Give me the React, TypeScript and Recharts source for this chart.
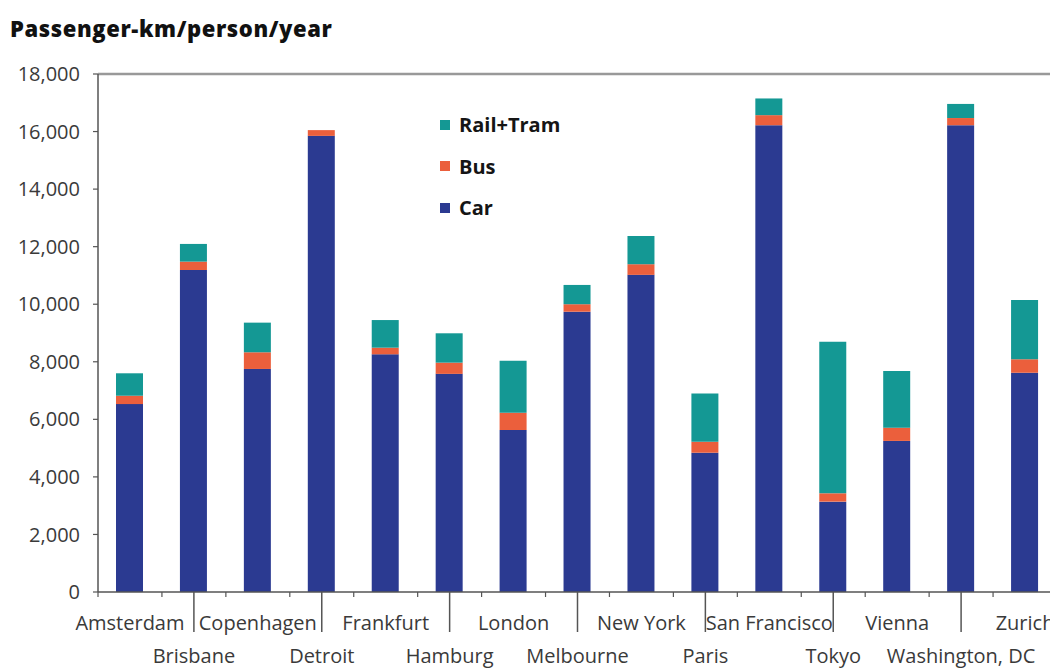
import React from 'react';
import { BarChart, Bar, XAxis, YAxis, Legend, ReferenceLine } from 'recharts';

const cities = ['Amsterdam', 'Brisbane', 'Copenhagen', 'Detroit', 'Frankfurt', 'Hamburg', 'London', 'Melbourne', 'New York', 'Paris', 'San Francisco', 'Tokyo', 'Vienna', 'Washington, DC', 'Zurich'];
const car = [6530, 11190, 7750, 15850, 8260, 7580, 5630, 9740, 11020, 4840, 16220, 3140, 5250, 16220, 7620];
const bus = [290, 290, 580, 200, 230, 390, 600, 260, 370, 380, 350, 290, 460, 250, 470];
const rail = [780, 615, 1030, 0, 960, 1020, 1810, 670, 980, 1680, 580, 5270, 1970, 490, 2060];
const yTicks = [0, 2000, 4000, 6000, 8000, 10000, 12000, 14000, 16000, 18000];
const legendOrder = ['Rail+Tram', 'Bus', 'Car'];
const title = 'Passenger-km/person/year';

const data = cities.map((city, i) => ({ city, car: car[i], bus: bus[i], rail: rail[i] }));

const CHART_W = 1080;
const CHART_H = 668;
const Y_W = 98;
const MARGIN = { top: 74, right: 23, bottom: 0, left: 0 };
const BAND = (CHART_W - Y_W - MARGIN.left - MARGIN.right) / cities.length;

const FONT = '"Open Sans", sans-serif';

function CityTick(props: any) {
  const { x, y, payload, index } = props;
  const half = BAND / 2;
  const even = index % 2 === 0;
  return (
    <g>
      <line x1={x - half} x2={x - half} y1={y} y2={y + 5} stroke="#555" strokeWidth={1.2} />
      {!even && <line x1={x} x2={x} y1={y} y2={y + 40} stroke="#555" strokeWidth={1.5} />}
      <text x={x} y={even ? y + 38 : y + 71} textAnchor="middle" fontFamily={FONT} fontSize={20} fill="#3a3a3a">
        {payload.value}
      </text>
    </g>
  );
}

function LegendContent(props: any) {
  const items = [...(props.payload || [])].sort(
    (a: any, b: any) => legendOrder.indexOf(a.value) - legendOrder.indexOf(b.value)
  );
  return (
    <div style={{ fontFamily: FONT }}>
      {items.map((it: any) => (
        <div key={it.value} style={{ display: 'flex', alignItems: 'center', height: 41.5 }}>
          <span style={{ display: 'inline-block', width: 10, height: 10, background: it.color, marginRight: 9 }} />
          <span style={{ fontSize: 20, fontWeight: 700, color: '#151515' }}>{it.value}</span>
        </div>
      ))}
    </div>
  );
}

export default function App() {
  return (
    <div style={{ position: 'fixed', left: 0, top: 0, width: 1050, height: 668, overflow: 'hidden', background: '#fff' }}>
      <div style={{ position: 'absolute', left: 10, top: 17, fontFamily: FONT, fontSize: 22, lineHeight: '22px', fontWeight: 800, color: '#111', letterSpacing: 0.6, whiteSpace: 'nowrap' }}>
        {title}
      </div>
      <div style={{ position: 'absolute', left: 0, top: 0 }}>
        <BarChart width={CHART_W} height={CHART_H} data={data} margin={MARGIN}>
          <ReferenceLine y={18000} stroke="#999" strokeWidth={2.5} />
          <XAxis
            dataKey="city"
            interval={0}
            tick={<CityTick />}
            tickLine={false}
            tickSize={0}
            tickMargin={0}
            height={76}
            axisLine={{ stroke: '#555', strokeWidth: 1.5 }}
          />
          <YAxis
            width={Y_W}
            domain={[0, 18000]}
            ticks={yTicks}
            interval={0}
            tickSize={5}
            tickMargin={13}
            tickFormatter={(v: number) => v.toLocaleString('en-US')}
            tick={{ fontFamily: FONT, fontSize: 20, fill: '#3a3a3a' }}
            tickLine={{ stroke: '#555', strokeWidth: 1.2 }}
            axisLine={{ stroke: '#555', strokeWidth: 1.5 }}
          />
          <Legend
            layout="vertical"
            align="center"
            verticalAlign="middle"
            content={<LegendContent />}
            wrapperStyle={{ left: 440, top: 104, width: 200 }}
          />
          <Bar dataKey="car" name="Car" stackId="a" fill="#2B3A91" barSize={27} isAnimationActive={false} />
          <Bar dataKey="bus" name="Bus" stackId="a" fill="#EB5F3C" barSize={27} isAnimationActive={false} />
          <Bar dataKey="rail" name="Rail+Tram" stackId="a" fill="#149894" barSize={27} isAnimationActive={false} />
        </BarChart>
      </div>
    </div>
  );
}
